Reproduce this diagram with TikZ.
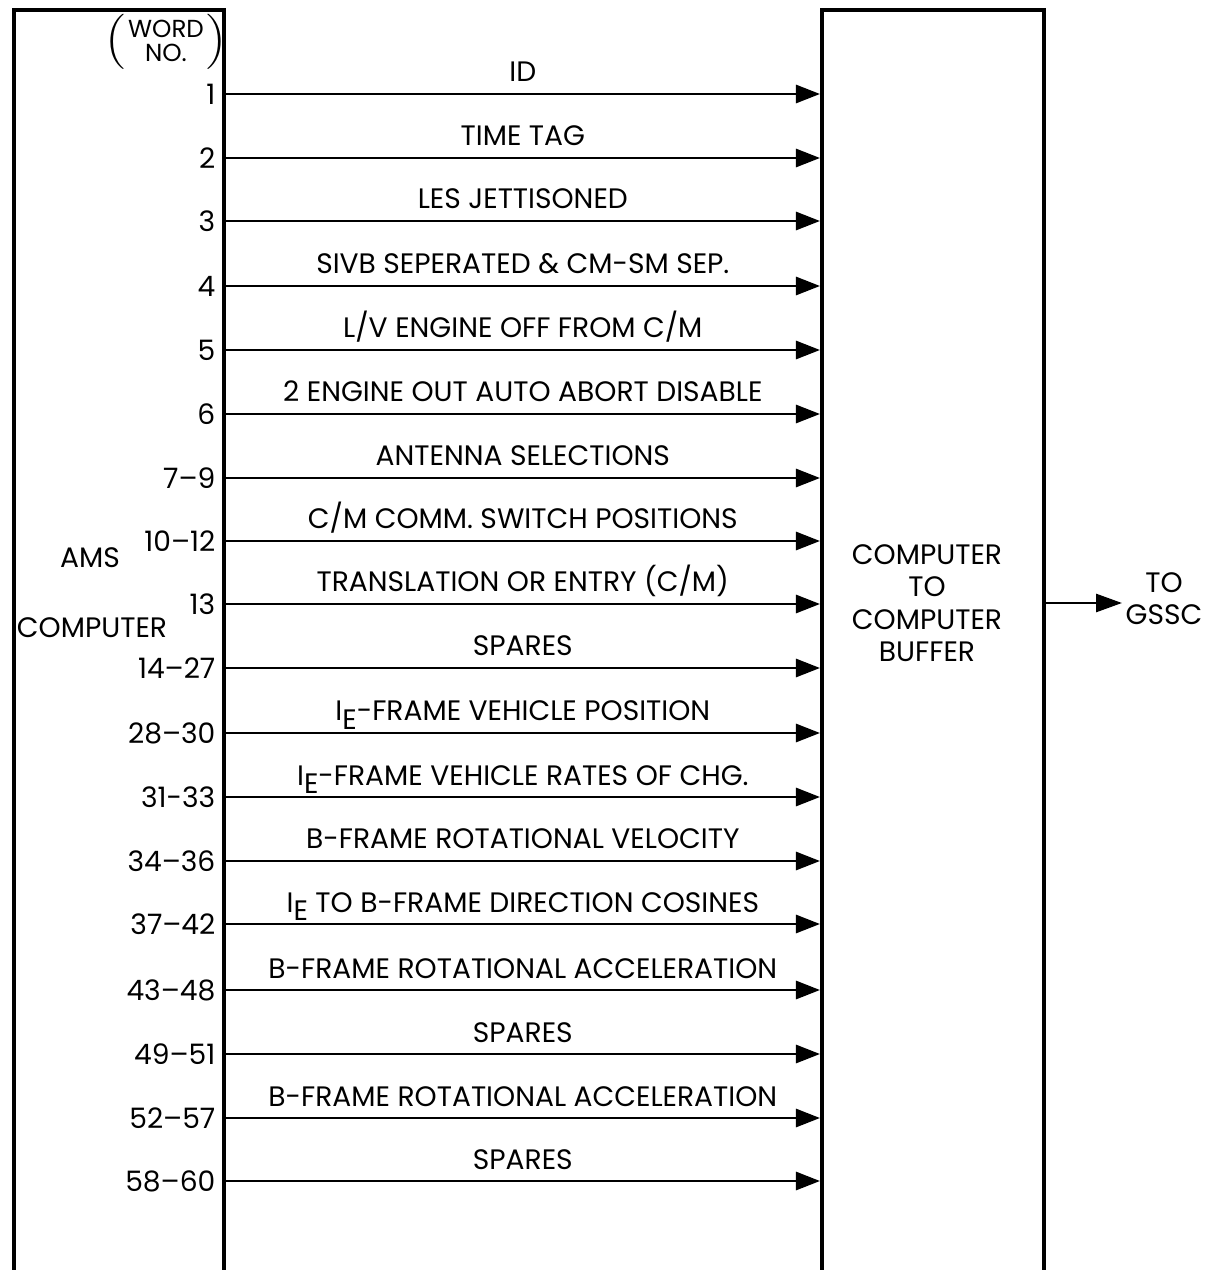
\documentclass[tikz,border=0pt]{standalone}
\usepackage{fontspec}
\setmainfont{Poppins}
\usepackage{tikz}
\usetikzlibrary{arrows.meta}
\tikzset{
  box/.style={draw, line width=1.0pt, inner sep=0pt, anchor=north west},
  flow/.style={line width=0.8pt, -{Triangle[length=0.24cm,width=0.18cm]}},
  wordno/.style={anchor=east, inner sep=0pt},
  rowlabel/.style={midway, anchor=base, yshift=0.12cm, inner sep=0pt},
  headfont/.style={font=\fontsize{7pt}{6.6pt}\selectfont},
  every node/.style={font=\fontsize{8pt}{9.2pt}\selectfont}
}
\newcommand{\wordrow}[4]{ \node[wordno] (n#1) at (216,#2) {#3};
  \draw[flow] (ams.east |- n#1) -- node[rowlabel] (t#1) {#4} (buf.west |- n#1);}
\newcommand{\sube}{I\raisebox{-0.55ex}{E}}

\begin{document}
\begin{tikzpicture}[x=0.01cm, y=-0.01cm]
    \useasboundingbox (0,0) rectangle (1205,1270);
    % boxes
    \node[box, minimum width=2.10cm, minimum height=13.0cm] (ams) at (12,8) {};
    \node[box, minimum width=2.22cm, minimum height=13.0cm] (buf) at (820,8) {};
    % box texts
    \node (amsa) at (90,558) {AMS};
    \node (amsb) at (92,628) {COMPUTER};
    \node[align=center] (buftxt) at (927,603) {COMPUTER\\TO\\COMPUTER\\BUFFER};
    % word no. heading
    \node[align=center, inner sep=0pt, headfont] (head) at (166,41) {WORD\\NO.};
    \node[anchor=east, inner sep=0pt] (lpar) at ([xshift=-0.01cm]head.west) {\scalebox{1}[0.87]{$\Big($}};
    \node[anchor=west, inner sep=0pt] (rpar) at ([xshift=0.01cm]head.east) {\scalebox{1}[0.87]{$\Big)$}};
    % words
    \wordrow{1}{94}{1}{ID}
    \wordrow{2}{158}{2}{TIME TAG}
    \wordrow{3}{221}{3}{LES JETTISONED}
    \wordrow{4}{286}{4}{SIVB SEPERATED \& CM-SM SEP.}
    \wordrow{5}{350}{5}{L/V ENGINE OFF FROM C/M}
    \wordrow{6}{414}{6}{2 ENGINE OUT AUTO ABORT DISABLE}
    \wordrow{7}{478}{7--9}{ANTENNA SELECTIONS}
    \wordrow{8}{541}{10--12}{C/M COMM. SWITCH POSITIONS}
    \wordrow{9}{604}{13}{TRANSLATION OR ENTRY (C/M)}
    \wordrow{10}{668}{14--27}{SPARES}
    \wordrow{11}{733}{28--30}{\sube-FRAME VEHICLE POSITION}
    \wordrow{12}{797}{31-33}{\sube-FRAME VEHICLE RATES OF CHG.}
    \wordrow{13}{861}{34--36}{B-FRAME ROTATIONAL VELOCITY}
    \wordrow{14}{924}{37--42}{\sube{} TO B-FRAME DIRECTION COSINES}
    \wordrow{15}{990}{43--48}{B-FRAME ROTATIONAL ACCELERATION}
    \wordrow{16}{1054}{49--51}{SPARES}
    \wordrow{17}{1118}{52--57}{B-FRAME ROTATIONAL ACCELERATION}
    \wordrow{18}{1181}{58--60}{SPARES}
    % output
    \node[align=center, anchor=east, inner sep=0pt] (gssc) at (1203,599) {TO\\GSSC};
    \coordinate (gsscend) at (1122,603);
    \draw[flow, -{Triangle[length=0.26cm,width=0.18cm]}] (buf.east |- gsscend) -- (gsscend);
\end{tikzpicture}
\end{document}
